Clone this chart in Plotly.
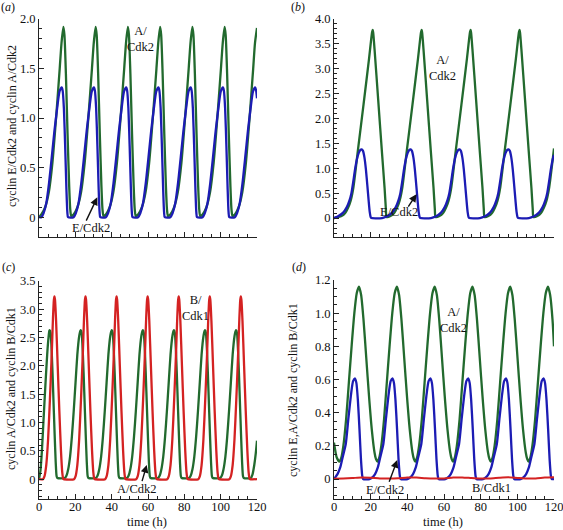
import plotly.graph_objects as go

# ---------------- data ----------------
# (a) E/Cdk2 and A/Cdk2
a_time_A = [0, 1.4, 3.4, 5.4, 7.4, 9.4, 11.4, 12.4, 13.4, 14.0, 14.8, 15.7, 16.6, 17.2, 17.75,
            19.15, 21.15, 23.15, 25.15, 27.15, 29.15, 30.15, 31.15, 31.75, 32.55, 33.45, 34.35, 34.95, 35.5,
            36.9, 38.9, 40.9, 42.9, 44.9, 46.9, 47.9, 48.9, 49.5, 50.3, 51.2, 52.1, 52.7, 53.25,
            54.65, 56.65, 58.65, 60.65, 62.65, 64.65, 65.65, 66.65, 67.25, 68.05, 68.95, 69.85, 70.45, 71.0,
            72.4, 74.4, 76.4, 78.4, 80.4, 82.4, 83.4, 84.4, 85.0, 85.8, 86.7, 87.6, 88.2, 88.75,
            90.15, 92.15, 94.15, 96.15, 98.15, 100.15, 101.15, 102.15, 102.75, 103.55, 104.45, 105.35, 105.95, 106.5,
            107.9, 109.9, 111.9, 113.9, 115.9, 117.9, 118.9, 120.0]
a_A_cdk2 = [0.0, 0.03, 0.1, 0.25, 0.55, 1.0, 1.5, 1.76, 1.92, 1.84, 1.45, 0.85, 0.32, 0.08, 0.01,
            0.03, 0.1, 0.25, 0.55, 1.0, 1.5, 1.76, 1.92, 1.84, 1.45, 0.85, 0.32, 0.08, 0.01,
            0.03, 0.1, 0.25, 0.55, 1.0, 1.5, 1.76, 1.92, 1.84, 1.45, 0.85, 0.32, 0.08, 0.01,
            0.03, 0.1, 0.25, 0.55, 1.0, 1.5, 1.76, 1.92, 1.84, 1.45, 0.85, 0.32, 0.08, 0.01,
            0.03, 0.1, 0.25, 0.55, 1.0, 1.5, 1.76, 1.92, 1.84, 1.45, 0.85, 0.32, 0.08, 0.01,
            0.03, 0.1, 0.25, 0.55, 1.0, 1.5, 1.76, 1.92, 1.84, 1.45, 0.85, 0.32, 0.08, 0.01,
            0.03, 0.1, 0.25, 0.55, 1.0, 1.5, 1.76, 1.91]
a_time_E = [0, 1.3, 2.5, 4.0, 5.5, 7.0, 8.5, 10.0, 11.3, 12.5, 13.0, 13.7, 14.4, 15.1, 15.6, 16.0,
            19.05, 20.25, 21.75, 23.25, 24.75, 26.25, 27.75, 29.05, 30.25, 30.75, 31.45, 32.15, 32.85, 33.35, 33.75,
            36.8, 38.0, 39.5, 41.0, 42.5, 44.0, 45.5, 46.8, 48.0, 48.5, 49.2, 49.9, 50.6, 51.1, 51.5,
            54.55, 55.75, 57.25, 58.75, 60.25, 61.75, 63.25, 64.55, 65.75, 66.25, 66.95, 67.65, 68.35, 68.85, 69.25,
            72.3, 73.5, 75.0, 76.5, 78.0, 79.5, 81.0, 82.3, 83.5, 84.0, 84.7, 85.4, 86.1, 86.6, 87.0,
            90.05, 91.25, 92.75, 94.25, 95.75, 97.25, 98.75, 100.05, 101.25, 101.75, 102.45, 103.15, 103.85, 104.35, 104.75,
            107.8, 109.0, 110.5, 112.0, 113.5, 115.0, 116.5, 117.8, 119.0, 119.5, 120.0]
a_E_cdk2 = [0.0, 0.0, 0.04, 0.14, 0.34, 0.6, 0.87, 1.1, 1.27, 1.31, 1.28, 1.1, 0.72, 0.28, 0.05, 0.0,
            0.0, 0.04, 0.14, 0.34, 0.6, 0.87, 1.1, 1.27, 1.31, 1.28, 1.1, 0.72, 0.28, 0.05, 0.0,
            0.0, 0.04, 0.14, 0.34, 0.6, 0.87, 1.1, 1.27, 1.31, 1.28, 1.1, 0.72, 0.28, 0.05, 0.0,
            0.0, 0.04, 0.14, 0.34, 0.6, 0.87, 1.1, 1.27, 1.31, 1.28, 1.1, 0.72, 0.28, 0.05, 0.0,
            0.0, 0.04, 0.14, 0.34, 0.6, 0.87, 1.1, 1.27, 1.31, 1.28, 1.1, 0.72, 0.28, 0.05, 0.0,
            0.0, 0.04, 0.14, 0.34, 0.6, 0.87, 1.1, 1.27, 1.31, 1.28, 1.1, 0.72, 0.28, 0.05, 0.0,
            0.0, 0.04, 0.14, 0.34, 0.6, 0.87, 1.1, 1.27, 1.31, 1.28, 1.2]

# (b) E/Cdk2 and A/Cdk2
b_time_A = [0, 2.0, 4.1, 6.1, 7.6, 9.1, 10.6, 13.1, 16.1, 19.1, 20.3, 20.8, 21.1, 21.4, 22.1, 24.1, 26.1, 27.6, 28.3,
            28.7, 30.8, 32.8, 34.3, 35.8, 37.3, 39.8, 42.8, 45.8, 47.0, 47.5, 47.8, 48.1, 48.8, 50.8, 52.8, 54.3, 55.0,
            55.4, 57.5, 59.5, 61.0, 62.5, 64.0, 66.5, 69.5, 72.5, 73.7, 74.2, 74.5, 74.8, 75.5, 77.5, 79.5, 81.0, 81.7,
            82.1, 84.2, 86.2, 87.7, 89.2, 90.7, 93.2, 96.2, 99.2, 100.4, 100.9, 101.2, 101.5, 102.2, 104.2, 106.2, 107.7, 108.4,
            108.8, 110.9, 112.9, 114.4, 115.9, 117.4, 120.0]
b_A_cdk2 = [0.0, 0.02, 0.04, 0.1, 0.2, 0.35, 0.62, 1.38, 2.28, 3.2, 3.6, 3.74, 3.78, 3.72, 3.4, 2.38, 1.35, 0.6, 0.18,
            0.02, 0.04, 0.1, 0.2, 0.35, 0.62, 1.38, 2.28, 3.2, 3.6, 3.74, 3.78, 3.72, 3.4, 2.38, 1.35, 0.6, 0.18,
            0.02, 0.04, 0.1, 0.2, 0.35, 0.62, 1.38, 2.28, 3.2, 3.6, 3.74, 3.78, 3.72, 3.4, 2.38, 1.35, 0.6, 0.18,
            0.02, 0.04, 0.1, 0.2, 0.35, 0.62, 1.38, 2.28, 3.2, 3.6, 3.74, 3.78, 3.72, 3.4, 2.38, 1.35, 0.6, 0.18,
            0.02, 0.04, 0.1, 0.2, 0.35, 0.62, 1.4]
b_time_E = [0, 2.0, 5.0, 7.0, 8.5, 9.5, 10.5, 11.5, 12.5, 13.5, 14.4, 15.0, 15.8, 16.6, 17.4, 18.2, 18.9, 19.5, 20.0, 20.4,
            26.2, 28.7, 31.7, 33.7, 35.2, 36.2, 37.2, 38.2, 39.2, 40.2, 41.1, 41.7, 42.5, 43.3, 44.1, 44.9, 45.6, 46.2, 46.7, 47.1,
            52.9, 55.4, 58.4, 60.4, 61.9, 62.9, 63.9, 64.9, 65.9, 66.9, 67.8, 68.4, 69.2, 70.0, 70.8, 71.6, 72.3, 72.9, 73.4, 73.8,
            79.6, 82.1, 85.1, 87.1, 88.6, 89.6, 90.6, 91.6, 92.6, 93.6, 94.5, 95.1, 95.9, 96.7, 97.5, 98.3, 99.0, 99.6, 100.1, 100.5,
            106.3, 108.8, 111.8, 113.8, 115.3, 116.3, 117.3, 118.3, 119.3, 120.0]
b_E_cdk2 = [0.0, 0.03, 0.11, 0.22, 0.36, 0.5, 0.73, 0.98, 1.18, 1.31, 1.37, 1.38, 1.35, 1.22, 0.98, 0.65, 0.35, 0.12, 0.02, 0.0,
            0.0, 0.03, 0.11, 0.22, 0.36, 0.5, 0.73, 0.98, 1.18, 1.31, 1.37, 1.38, 1.35, 1.22, 0.98, 0.65, 0.35, 0.12, 0.02, 0.0,
            0.0, 0.03, 0.11, 0.22, 0.36, 0.5, 0.73, 0.98, 1.18, 1.31, 1.37, 1.38, 1.35, 1.22, 0.98, 0.65, 0.35, 0.12, 0.02, 0.0,
            0.0, 0.03, 0.11, 0.22, 0.36, 0.5, 0.73, 0.98, 1.18, 1.31, 1.37, 1.38, 1.35, 1.22, 0.98, 0.65, 0.35, 0.12, 0.02, 0.0,
            0.0, 0.03, 0.11, 0.22, 0.36, 0.5, 0.73, 0.98, 1.18, 1.27]

# (c) A/Cdk2 and B/Cdk1
c_time_B = [0, 2.2, 3.0, 4.0, 5.0, 6.0, 7.0, 7.7, 8.2, 8.5, 8.8, 9.4, 10.3, 11.2, 12.1, 12.8, 13.3, 13.6,
            19.3, 20.1, 21.1, 22.1, 23.1, 24.1, 24.8, 25.3, 25.6, 25.9, 26.5, 27.4, 28.3, 29.2, 29.9, 30.4, 30.7,
            36.4, 37.2, 38.2, 39.2, 40.2, 41.2, 41.9, 42.4, 42.7, 43.0, 43.6, 44.5, 45.4, 46.3, 47.0, 47.5, 47.8,
            53.5, 54.3, 55.3, 56.3, 57.3, 58.3, 59.0, 59.5, 59.8, 60.1, 60.7, 61.6, 62.5, 63.4, 64.1, 64.6, 64.9,
            70.6, 71.4, 72.4, 73.4, 74.4, 75.4, 76.1, 76.6, 76.9, 77.2, 77.8, 78.7, 79.6, 80.5, 81.2, 81.7, 82.0,
            87.7, 88.5, 89.5, 90.5, 91.5, 92.5, 93.2, 93.7, 94.0, 94.3, 94.9, 95.8, 96.7, 97.6, 98.3, 98.8, 99.1,
            104.8, 105.6, 106.6, 107.6, 108.6, 109.6, 110.3, 110.8, 111.1, 111.4, 112.0, 112.9, 113.8, 114.7, 115.4, 115.9, 116.2,
            120.0]
c_B_cdk1 = [0.0, 0.0, 0.05, 0.25, 0.7, 1.4, 2.2, 2.85, 3.17, 3.23, 3.17, 2.8, 2.0, 1.2, 0.5, 0.12, 0.01, 0.0,
            0.0, 0.05, 0.25, 0.7, 1.4, 2.2, 2.85, 3.17, 3.23, 3.17, 2.8, 2.0, 1.2, 0.5, 0.12, 0.01, 0.0,
            0.0, 0.05, 0.25, 0.7, 1.4, 2.2, 2.85, 3.17, 3.23, 3.17, 2.8, 2.0, 1.2, 0.5, 0.12, 0.01, 0.0,
            0.0, 0.05, 0.25, 0.7, 1.4, 2.2, 2.85, 3.17, 3.23, 3.17, 2.8, 2.0, 1.2, 0.5, 0.12, 0.01, 0.0,
            0.0, 0.05, 0.25, 0.7, 1.4, 2.2, 2.85, 3.17, 3.23, 3.17, 2.8, 2.0, 1.2, 0.5, 0.12, 0.01, 0.0,
            0.0, 0.05, 0.25, 0.7, 1.4, 2.2, 2.85, 3.17, 3.23, 3.17, 2.8, 2.0, 1.2, 0.5, 0.12, 0.01, 0.0,
            0.0, 0.05, 0.25, 0.7, 1.4, 2.2, 2.85, 3.17, 3.23, 3.17, 2.8, 2.0, 1.2, 0.5, 0.12, 0.01, 0.0,
            0.0]
c_time_A = [0, 0.8, 1.6, 2.5, 3.5, 4.5, 5.3, 5.7, 6.0, 6.4, 7.0, 7.8, 8.6, 9.2, 9.7, 10.1,
            14.2, 15.1, 16.1, 17.1, 18.1, 19.1, 20.1, 21.1, 22.1, 22.8, 23.1, 23.5, 24.1, 24.9, 25.7, 26.3, 26.8, 27.2,
            31.3, 32.2, 33.2, 34.2, 35.2, 36.2, 37.2, 38.2, 39.2, 39.9, 40.2, 40.6, 41.2, 42.0, 42.8, 43.4, 43.9, 44.3,
            48.4, 49.3, 50.3, 51.3, 52.3, 53.3, 54.3, 55.3, 56.3, 57.0, 57.3, 57.7, 58.3, 59.1, 59.9, 60.5, 61.0, 61.4,
            65.5, 66.4, 67.4, 68.4, 69.4, 70.4, 71.4, 72.4, 73.4, 74.1, 74.4, 74.8, 75.4, 76.2, 77.0, 77.6, 78.1, 78.5,
            82.6, 83.5, 84.5, 85.5, 86.5, 87.5, 88.5, 89.5, 90.5, 91.2, 91.5, 91.9, 92.5, 93.3, 94.1, 94.7, 95.2, 95.6,
            99.7, 100.6, 101.6, 102.6, 103.6, 104.6, 105.6, 106.6, 107.6, 108.3, 108.6, 109.0, 109.6, 110.4, 111.2, 111.8, 112.3, 112.7,
            116.6, 117.5, 118.5, 119.3, 120.0]
c_A_cdk2 = [0.0, 0.15, 0.5, 1.05, 1.65, 2.2, 2.52, 2.62, 2.63, 2.58, 2.25, 1.55, 0.8, 0.3, 0.05, 0.02,
            0.02, 0.06, 0.18, 0.4, 0.75, 1.2, 1.7, 2.2, 2.52, 2.62, 2.63, 2.58, 2.25, 1.55, 0.8, 0.3, 0.05, 0.02,
            0.02, 0.06, 0.18, 0.4, 0.75, 1.2, 1.7, 2.2, 2.52, 2.62, 2.63, 2.58, 2.25, 1.55, 0.8, 0.3, 0.05, 0.02,
            0.02, 0.06, 0.18, 0.4, 0.75, 1.2, 1.7, 2.2, 2.52, 2.62, 2.63, 2.58, 2.25, 1.55, 0.8, 0.3, 0.05, 0.02,
            0.02, 0.06, 0.18, 0.4, 0.75, 1.2, 1.7, 2.2, 2.52, 2.62, 2.63, 2.58, 2.25, 1.55, 0.8, 0.3, 0.05, 0.02,
            0.02, 0.06, 0.18, 0.4, 0.75, 1.2, 1.7, 2.2, 2.52, 2.62, 2.63, 2.58, 2.25, 1.55, 0.8, 0.3, 0.05, 0.02,
            0.02, 0.06, 0.18, 0.4, 0.75, 1.2, 1.7, 2.2, 2.52, 2.62, 2.63, 2.58, 2.25, 1.55, 0.8, 0.3, 0.05, 0.02,
            0.02, 0.08, 0.25, 0.45, 0.68]

# (d) E/Cdk2, A/Cdk2 and B/Cdk1
d_time_A = [0, 1.5, 3.0, 4.0, 5.1, 6.6, 8.1, 9.6, 11.1, 12.4, 13.6, 14.8, 16.1, 17.6, 19.1, 20.6, 22.1, 22.9,
            23.7, 24.7, 25.8, 27.3, 28.8, 30.3, 31.8, 33.1, 34.3, 35.5, 36.8, 38.3, 39.8, 41.3, 42.8, 43.6,
            44.3, 45.3, 46.4, 47.9, 49.4, 50.9, 52.4, 53.7, 54.9, 56.1, 57.4, 58.9, 60.4, 61.9, 63.4, 64.2,
            64.9, 65.9, 67.0, 68.5, 70.0, 71.5, 73.0, 74.3, 75.5, 76.7, 78.0, 79.5, 81.0, 82.5, 84.0, 84.8,
            85.5, 86.5, 87.6, 89.1, 90.6, 92.1, 93.6, 94.9, 96.1, 97.3, 98.6, 100.1, 101.6, 103.1, 104.6, 105.4,
            106.1, 107.1, 108.2, 109.7, 111.2, 112.7, 114.2, 115.5, 116.7, 117.9, 119.2, 120.0]
d_A_cdk2 = [0.22, 0.13, 0.105, 0.13, 0.2, 0.36, 0.58, 0.8, 1.0, 1.12, 1.16, 1.11, 0.96, 0.73, 0.5, 0.3, 0.16, 0.12,
            0.105, 0.13, 0.2, 0.36, 0.58, 0.8, 1.0, 1.12, 1.16, 1.11, 0.96, 0.73, 0.5, 0.3, 0.16, 0.12,
            0.105, 0.13, 0.2, 0.36, 0.58, 0.8, 1.0, 1.12, 1.16, 1.11, 0.96, 0.73, 0.5, 0.3, 0.16, 0.12,
            0.105, 0.13, 0.2, 0.36, 0.58, 0.8, 1.0, 1.12, 1.16, 1.11, 0.96, 0.73, 0.5, 0.3, 0.16, 0.12,
            0.105, 0.13, 0.2, 0.36, 0.58, 0.8, 1.0, 1.12, 1.16, 1.11, 0.96, 0.73, 0.5, 0.3, 0.16, 0.12,
            0.105, 0.13, 0.2, 0.36, 0.58, 0.8, 1.0, 1.12, 1.16, 1.11, 0.96, 0.8]
d_time_E = [0, 1.9, 3.4, 4.9, 6.4, 7.9, 9.4, 10.4, 11.4, 12.2, 13.0, 13.9, 14.7, 15.4, 15.9,
            19.4, 20.9, 22.4, 23.9, 25.4, 26.9, 28.4, 29.9, 30.9, 31.9, 32.7, 33.5, 34.4, 35.2, 35.9, 36.4,
            40.1, 41.6, 43.1, 44.6, 46.1, 47.6, 49.1, 50.6, 51.6, 52.6, 53.4, 54.2, 55.1, 55.9, 56.6, 57.1,
            60.7, 62.2, 63.7, 65.2, 66.7, 68.2, 69.7, 71.2, 72.2, 73.2, 74.0, 74.8, 75.7, 76.5, 77.2, 77.7,
            81.3, 82.8, 84.3, 85.8, 87.3, 88.8, 90.3, 91.8, 92.8, 93.8, 94.6, 95.4, 96.3, 97.1, 97.8, 98.3,
            101.8, 103.3, 104.8, 106.3, 107.8, 109.3, 110.8, 112.3, 113.3, 114.3, 115.1, 115.9, 116.8, 117.6, 118.3, 118.8,
            120.0]
d_E_cdk2 = [0.0, 0.03, 0.07, 0.14, 0.21, 0.37, 0.52, 0.59, 0.607, 0.58, 0.48, 0.3, 0.12, 0.02, 0.0,
            0.0, 0.01, 0.03, 0.07, 0.14, 0.21, 0.37, 0.52, 0.59, 0.607, 0.58, 0.48, 0.3, 0.12, 0.02, 0.0,
            0.0, 0.01, 0.03, 0.07, 0.14, 0.21, 0.37, 0.52, 0.59, 0.607, 0.58, 0.48, 0.3, 0.12, 0.02, 0.0,
            0.0, 0.01, 0.03, 0.07, 0.14, 0.21, 0.37, 0.52, 0.59, 0.607, 0.58, 0.48, 0.3, 0.12, 0.02, 0.0,
            0.0, 0.01, 0.03, 0.07, 0.14, 0.21, 0.37, 0.52, 0.59, 0.607, 0.58, 0.48, 0.3, 0.12, 0.02, 0.0,
            0.0, 0.01, 0.03, 0.07, 0.14, 0.21, 0.37, 0.52, 0.59, 0.607, 0.58, 0.48, 0.3, 0.12, 0.02, 0.0,
            0.0]
d_time_B = [0, 5, 10, 15, 20, 25, 30, 35, 40, 45, 50, 55, 60, 65, 70, 75, 80, 85, 90, 95, 100, 105, 110, 115, 120]
d_B_cdk1 = [0.002, 0.003, 0.006, 0.01, 0.008, 0.004, 0.003, 0.005, 0.01, 0.009, 0.005, 0.003, 0.004,
            0.009, 0.01, 0.006, 0.003, 0.004, 0.008, 0.011, 0.007, 0.003, 0.004, 0.009, 0.011]

x_ticks = [0, 20, 40, 60, 80, 100, 120]

# ---------------- figure ----------------
W, H = 563, 530
GREEN = "#226a2e"
BLUE = "#1c1cb4"
RED = "#d42222"
FONT = "Liberation Serif, Times New Roman, DejaVu Serif, serif"
FS = 12.5

def px_x(p):
    return p / W

def px_y(p):
    return 1 - p / H

fig = go.Figure()

def line(x, y, color, xa, ya, width=2.3):
    fig.add_trace(go.Scatter(x=x, y=y, mode="lines", xaxis=xa, yaxis=ya,
                             line=dict(color=color, width=width, shape="spline", smoothing=0.6),
                             showlegend=False, hoverinfo="skip"))

line(a_time_A, a_A_cdk2, GREEN, "x", "y")
line(a_time_E, a_E_cdk2, BLUE, "x", "y")
line(b_time_A, b_A_cdk2, GREEN, "x2", "y2")
line(b_time_E, b_E_cdk2, BLUE, "x2", "y2")
line(c_time_A, c_A_cdk2, GREEN, "x3", "y3")
line(c_time_B, c_B_cdk1, RED, "x3", "y3")
line(d_time_A, d_A_cdk2, GREEN, "x4", "y4")
line(d_time_E, d_E_cdk2, BLUE, "x4", "y4")
line(d_time_B, d_B_cdk1, RED, "x4", "y4", width=2.0)

def xaxis(dom, anchor, labels):
    return dict(domain=dom, anchor=anchor, range=[0, 120], tickvals=x_ticks,
                ticktext=[str(v) for v in x_ticks], showticklabels=labels,
                ticks="inside", ticklen=5, tickcolor="#222", showline=True,
                linecolor="#222", linewidth=1, showgrid=False, zeroline=False,
                ticklabelstandoff=-4, ticklabeloverflow="allow",
                minor=dict(dtick=5, ticks="inside", ticklen=3, tickcolor="#222", showgrid=False),
                tickfont=dict(family=FONT, size=FS, color="#111"), automargin=False)

def yaxis(dom, anchor, rng, tickvals, ticktext, minor):
    return dict(domain=dom, anchor=anchor, range=rng, tickvals=tickvals, ticktext=ticktext,
                ticks="inside", ticklen=5, tickcolor="#222", showline=True,
                linecolor="#222", linewidth=1, showgrid=False, zeroline=False,
                ticklabeloverflow="allow",
                minor=dict(dtick=minor, tick0=0, ticks="inside", ticklen=3, tickcolor="#222", showgrid=False),
                tickfont=dict(family=FONT, size=FS, color="#111"), automargin=False)

xa_dom = [px_x(39), px_x(257)]
xb_dom = [px_x(334), px_x(554)]
top_dom = [px_y(237), px_y(19)]
c_dom = [px_y(499), px_y(281)]
d_dom = [px_y(499), px_y(280)]

fig.update_layout(
    width=W, height=H, margin=dict(l=0, r=0, t=0, b=0),
    paper_bgcolor="white", plot_bgcolor="white",
    font=dict(family=FONT, size=12, color="#111"),
    xaxis=xaxis(xa_dom, "y", False),
    yaxis=yaxis(top_dom, "x", [-0.2, 2.0], [0, 0.5, 1.0, 1.5, 2.0], ["0", "0.5", "1.0", "1.5", "2.0"], 0.1),
    xaxis2=xaxis(xb_dom, "y2", False),
    yaxis2=yaxis(top_dom, "x2", [-0.38, 4.0], [0, 0.5, 1.0, 1.5, 2.0, 2.5, 3.0, 3.5, 4.0],
                 ["0", "0.5", "1.0", "1.5", "2.0", "2.5", "3.0", "3.5", "4.0"], 0.1),
    xaxis3=xaxis(xa_dom, "y3", True),
    yaxis3=yaxis(c_dom, "x3", [-0.35, 3.5], [0, 0.5, 1.0, 1.5, 2.0, 2.5, 3.0, 3.5],
                 ["0", "0.5", "1.0", "1.5", "2.0", "2.5", "3.0", "3.5"], 0.1),
    xaxis4=xaxis(xb_dom, "y4", True),
    yaxis4=yaxis(d_dom, "x4", [-0.12, 1.2], [0, 0.2, 0.4, 0.6, 0.8, 1.0, 1.2],
                 ["0", "0.2", "0.4", "0.6", "0.8", "1.0", "1.2"], 0.05),
)

ann = []
def text(x, y, s, xref="paper", yref="paper", angle=0, size=FS):
    ann.append(dict(x=x, y=y, xref=xref, yref=yref, text=s, showarrow=False, textangle=angle,
                    font=dict(family=FONT, size=size, color="#111"), xanchor="center", yanchor="middle"))

def arrow(xt, yt, xs, ys, xr, yr):
    ann.append(dict(x=xt, y=yt, ax=xs, ay=ys, xref=xr, yref=yr, axref=xr, ayref=yr, text="",
                    showarrow=True, arrowhead=2, arrowsize=1.1, arrowwidth=1.4, arrowcolor="#111"))

# panel letters
text(px_x(8), px_y(7), "(<i>a</i>)", size=12)
text(px_x(298), px_y(7), "(<i>b</i>)", size=12)
text(px_x(8), px_y(267), "(<i>c</i>)", size=12)
text(px_x(299), px_y(267), "(<i>d</i>)", size=12)

# axis titles
text(px_x(12), px_y(126), "cyclin E/Cdk2 and cyclin A/Cdk2", angle=-90, size=12)
text(px_x(11), px_y(389), "cyclin A/Cdk2 and cyclin B/Cdk1", angle=-90, size=12)
text(px_x(293), px_y(390), "cyclin E,A/Cdk2 and cyclin B/Cdk1", angle=-90, size=12)
text(px_x(147), px_y(522), "time (h)")
text(px_x(443), px_y(522), "time (h)")

# curve labels
text(56, 1.8, "A/<br>Cdk2", "x", "y")
text(28.6, -0.11, "E/Cdk2", "x", "y")
arrow(32.1, 0.2, 25.6, -0.05, "x", "y")

text(59, 3.02, "A/<br>Cdk2", "x2", "y2")
text(35.5, 0.13, "E/Cdk2", "x2", "y2")
arrow(45.0, 0.48, 40.0, 0.2, "x2", "y2")

text(86, 3.03, "B/<br>Cdk1", "x3", "y3")
text(53.8, -0.18, "A/Cdk2", "x3", "y3")
arrow(59.3, 0.25, 56.5, -0.06, "x3", "y3")

text(65, 0.96, "A/<br>Cdk2", "x4", "y4")
text(27.8, -0.066, "E/Cdk2", "x4", "y4")
arrow(34.5, 0.115, 29.8, -0.025, "x4", "y4")
text(86, -0.052, "B/Cdk1", "x4", "y4")

fig.update_layout(annotations=ann)
fig.write_html("out.html", config={"displayModeBar": False},
               post_script="document.body.style.margin='0';document.body.style.padding='0';")
